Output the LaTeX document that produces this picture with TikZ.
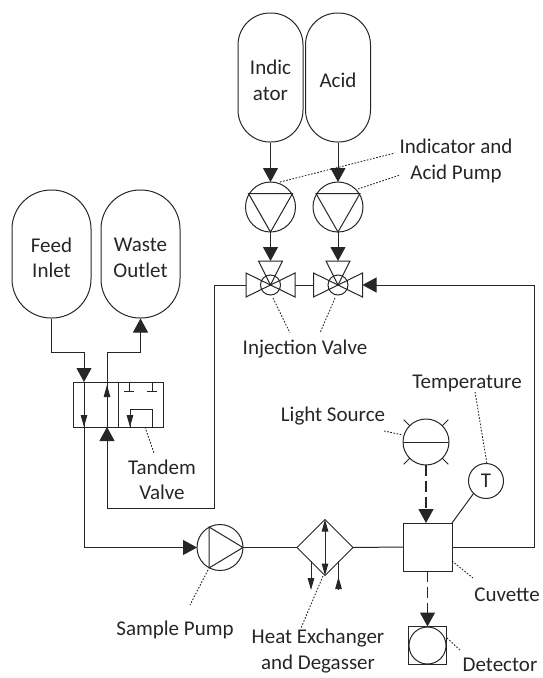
\documentclass[tikz,border=0pt]{standalone}
\usepackage{fontspec}
\setmainfont{Carlito}
\usepackage{tikz}
\usetikzlibrary{arrows.meta}
\usetikzlibrary{calc,positioning,shapes.geometric}

\tikzset{
  pipe/.style={line width=1pt,color=black!85},
  flow/.style={pipe,-{Triangle[length=14pt,width=15pt]}},
  tinyflow/.style={pipe,-{Triangle[length=12pt,width=6.5pt]}},
  lightflow/.style={flow,line width=1.2pt,dash pattern=on 11pt off 5pt},
  leader/.style={line width=0.9pt,dash pattern=on 1.6pt off 1.6pt,color=black!85},
  caption/.style={font=\fontsize{21}{25.5}\selectfont,align=center,inner sep=0pt,text=black!85},
  bigtank/.style={pipe,draw,rounded corners=39pt,minimum width=79pt,minimum height=128pt},
  smalltank/.style={pipe,draw,rounded corners=32pt,minimum width=65pt,minimum height=129pt},
  disc/.style={pipe,draw,circle,inner sep=0pt,outer sep=0pt}
}

\begin{document}
\begin{tikzpicture}[x=1pt,y=-1pt]
  \useasboundingbox (0,0) rectangle (543,678);

  % storage tanks
  \node[bigtank] (feed) at (51.5,254) {};
  \node[bigtank] (waste) at (140.5,254) {};
  \node[smalltank] (indicator) at (270.5,77.5) {};
  \node[smalltank] (acid) at (338,77.5) {};
  \node[caption,yshift=-4pt] (tfeed) at (feed) {Feed\\Inlet};
  \node[caption,yshift=-4pt] (twaste) at (waste) {Waste\\Outlet};
  \node[caption,yshift=-3pt] (tindicator) at (indicator) {Indic\\ator};
  \node[caption,yshift=-3pt] (tacid) at (acid) {Acid};

  % dosing pumps
  \node[disc,minimum size=50pt] (pump1) at (270.5,207) {};
  \node[disc,minimum size=50pt] (pump2) at (338,207) {};
  \draw[pipe] (248.5,193.5) -- (292.5,193.5) -- (pump1.south) -- cycle;
  \draw[pipe] (316,193.5) -- (360,193.5) -- (pump2.south) -- cycle;

  % injection valves
  \node[disc,minimum size=20pt] (valve1) at (270.5,285) {};
  \node[disc,minimum size=20pt] (valve2) at (338,285) {};
  \draw[pipe] (valve1.center) -- ++(-24.5,-12) -- ++(0,24) -- cycle;
  \draw[pipe] (valve1.center) -- ++(24.5,-12) -- ++(0,24) -- cycle;
  \draw[pipe] (valve1.center) -- ++(-12,-24) -- ++(24,0) -- cycle;
  \draw[pipe] (valve2.center) -- ++(-24.5,-12) -- ++(0,24) -- cycle;
  \draw[pipe] (valve2.center) -- ++(24.5,-12) -- ++(0,24) -- cycle;
  \draw[pipe] (valve2.center) -- ++(-12,-24) -- ++(24,0) -- cycle;
  \coordinate (v1l) at (246,285);
  \coordinate (v1r) at (295,285);
  \coordinate (v2l) at (313.5,285);
  \coordinate (v2r) at (362.5,285);
  \coordinate (v1t) at (270.5,261);
  \coordinate (v2t) at (338,261);

  % tandem valve
  \node[pipe,draw,minimum width=90pt,minimum height=45pt,inner sep=0pt,outer sep=0pt] (tandem) at (118,404.5) {};
  \draw[pipe] (tandem.north) -- (tandem.south);
  \coordinate (t1) at (84,382);
  \coordinate (t2) at (84,427);
  \coordinate (t3) at (107,427);
  \coordinate (t4) at (107,382);
  \draw[pipe] (129,382) -- (129,391) (124,391) -- (134,391);
  \draw[pipe] (152,382) -- (152,391) (147,391) -- (157,391);
  \draw[pipe] (130,427) -- (130,409) -- (152,409) -- (152,427);
  \draw[tinyflow] (130,413) -- (130,427);
  \draw[tinyflow] (84,413) -- (t2);
  \draw[tinyflow] (107,399) -- (107,385);
  \draw[pipe] (t1) -- (t2);
  \draw[pipe] (t3) -- (t4);

  % sample pump
  \node[disc,minimum size=46pt] (sample) at (220,547.5) {};
  \draw[pipe] (209,527) -- (sample.east) -- (209,568) -- cycle;

  % heat exchanger
  \node[pipe,draw,diamond,aspect=1,inner sep=0pt,outer sep=0pt,minimum size=56pt] (hx) at (325,547.5) {};
  \draw[pipe,{Triangle[length=12pt,width=6.5pt]}-{Triangle[length=12pt,width=6.5pt]}] (hx.north) -- (hx.south);
  \coordinate (hx1) at (311,561);
  \coordinate (hx2) at (311,590);
  \coordinate (hx3) at (338.5,561);
  \coordinate (hx4) at (338.5,590);
  \draw[tinyflow] (hx1) -- (hx2);
  \draw[pipe] (hx3) -- (hx4);
  \draw[tinyflow] (hx4) -- ++(0,-13);

  % measuring cell
  \node[pipe,draw,minimum width=49pt,minimum height=48pt,inner sep=0pt,outer sep=0pt] (cuvette) at (427.5,547) {};
  \node[pipe,draw,minimum size=38pt,inner sep=0pt,outer sep=0pt] (detector) at (427.5,645.5) {};
  \node[disc,minimum size=37pt] (sensor) at (detector) {};
  \node[disc,minimum size=46pt] (light) at (426,442) {};
  \draw[pipe] (light.west) -- (light.east);
  \draw[pipe] (light.45) -- ++(6,-6) (light.135) -- ++(-6,-6) (light.225) -- ++(-6,6) (light.315) -- ++(6,6);
  \node[disc,caption,minimum size=35pt] (temp) at (486,481) {T};

  % connectors
  \draw[flow] (indicator.south) -- (pump1.north);
  \draw[flow] (acid.south) -- (pump2.north);
  \draw[flow] (pump1.south) -- (v1t);
  \draw[flow] (pump2.south) -- (v2t);
  \draw[pipe] (v1r) -- (v2l);
  \draw[flow] (v1l) -- (214,285) -- (214,508) -- (107,508) -- (t3);
  \draw[flow] (feed.south) -- (51.5,352) -- (84,352) -- (t1);
  \draw[flow] (t4) -- (107,352) -- (140.5,352) -- (waste.south);
  \draw[flow] (t2) -- (84,547.5) -- (sample.west);
  \draw[pipe] (sample.east) -- (hx.west);
  \draw[pipe] (hx.east) -- (cuvette.west);
  \draw[flow] (cuvette.east) -- (534,547) -- (534,285) -- (v2r);
  \draw[pipe] (temp.225) -- (cuvette.north east);
  \draw[lightflow] (light.south) -- (light.south |- cuvette.north);
  \draw[lightflow] (cuvette.south) -- (detector.north);

  % labels
  \node[caption] (lpump) at (456,161) {Indicator and\\Acid Pump};
  \node[caption] (linject) at (305,349) {Injection Valve};
  \node[caption] (ltandem) at (162,480) {Tandem\\Valve};
  \node[caption] (lsample) at (175,630) {Sample Pump};
  \node[caption] (lhx) at (318,651) {Heat Exchanger\\and Degasser};
  \node[caption] (llight) at (333,416) {Light Source};
  \node[caption] (ltemp) at (467,383) {Temperature};
  \node[caption] (lcuvette) at (507,595) {Cuvette};
  \node[caption] (ldetector) at (500,665) {Detector};

  % leader lines
  \draw[leader] (280,182) -- (395,153);
  \draw[leader] (358,189) -- (400,175);
  \draw[leader] (273,298) -- (290,333);
  \draw[leader] (335,298) -- (320,333);
  \draw[leader] (145,427) -- (154,453);
  \draw[leader] (208,570) -- (190,605);
  \draw[leader] (323,576) -- (301,628);
  \draw[leader] (384,431) -- (403,435);
  \draw[leader] (475,392) -- (487,464);
  \draw[leader] (452,561) -- (473,578);
  \draw[leader] (447,638) -- (460,650);
\end{tikzpicture}
\end{document}
